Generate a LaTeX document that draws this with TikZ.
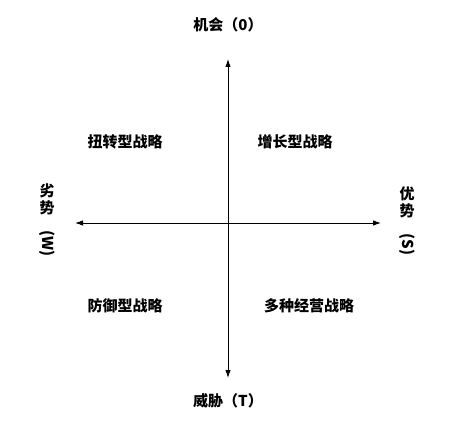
\documentclass[tikz,border=0pt]{standalone}
\usepackage{fontspec}
\newfontfamily\cjk{Noto Sans CJK SC}
\usepackage{tikz}
\usetikzlibrary{arrows.meta}

\begin{document}
\begin{tikzpicture}[x=1pt,y=-1pt,>={Latex[length=8pt,width=5.5pt]}]
            \tikzset{lab/.style={inner sep=0pt,font=\cjk\bfseries\fontsize{15}{17}\selectfont},
                     vlab/.style={lab,align=center}}
            \useasboundingbox (0,0) rectangle (458,422);
            \coordinate (n) at (228,59);
            \coordinate (s) at (228,378);
            \coordinate (w) at (75,223);
            \coordinate (e) at (381,223);
            \draw[<->,line width=0.9pt] (w) -- (e);
            \draw[<->,line width=0.9pt] (n) -- (s);
            \node (o) at (228,25) [lab] {机会（0）};
            \node (t) at (228,401) [lab] {威胁（T）};
            \node (wk) at (47,220) [vlab] {劣\\势\\\rotatebox{-90}{(W)}};
            \node (st) at (407,221) [vlab] {优\\势\\\rotatebox{-90}{(S)}};
            \node (q1) at (125,142) [lab] {扭转型战略};
            \node (q2) at (295,142) [lab] {增长型战略};
            \node (q3) at (125,306) [lab] {防御型战略};
            \node (q4) at (309,306) [lab] {多种经营战略};
        \end{tikzpicture}
\end{document}
